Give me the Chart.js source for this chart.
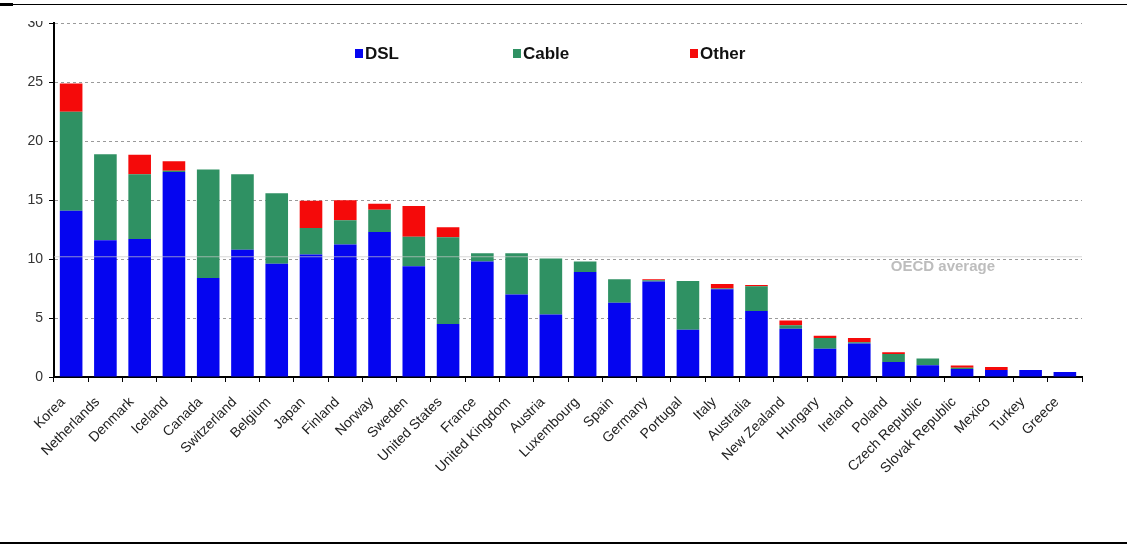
<!DOCTYPE html>
<html>
<head>
<meta charset="utf-8">
<script src="https://cdn.jsdelivr.net/npm/chart.js@4/dist/chart.umd.min.js"></script>
<style>
  html, body { margin: 0; padding: 0; background: #fff; }
  body { width: 1127px; height: 546px; position: relative; overflow: hidden; }
  #topRule { position: absolute; left: 0; top: 4px; width: 1127px; height: 1px; background: #000; }
  #topMark { position: absolute; left: 0; top: 3px; width: 13px; height: 3px; background: #000; }
  #bottomRule { position: absolute; left: 0; top: 542px; width: 1127px; height: 2px; background: #000; }
  #clip { position: absolute; left: 0; top: 21px; width: 1127px; height: 500px; overflow: hidden; }
  #wrap { position: absolute; left: 0; top: -12px; width: 1127px; height: 500px; }
</style>
</head>
<body>
<div id="topRule"></div>
<div id="topMark"></div>
<div id="bottomRule"></div>
<div id="clip"><div id="wrap"><canvas id="broadband"></canvas></div></div>
<script>
// broadband subscribers per 100 inhabitants, by technology
const countries = ['Korea', 'Netherlands', 'Denmark', 'Iceland', 'Canada', 'Switzerland', 'Belgium',
  'Japan', 'Finland', 'Norway', 'Sweden', 'United States', 'France', 'United Kingdom', 'Austria',
  'Luxembourg', 'Spain', 'Germany', 'Portugal', 'Italy', 'Australia', 'New Zealand', 'Hungary',
  'Ireland', 'Poland', 'Czech Republic', 'Slovak Republic', 'Mexico', 'Turkey', 'Greece'];
const dsl = [14.1, 11.6, 11.7, 17.4, 8.4, 10.8, 9.6, 10.4, 11.25, 12.3, 9.4, 4.5, 9.8, 7.0, 5.3,
  8.9, 6.3, 8.1, 4.0, 7.45, 5.6, 4.1, 2.4, 2.85, 1.27, 0.99, 0.68, 0.59, 0.59, 0.42];
const cable = [8.4, 7.3, 5.5, 0.1, 9.2, 6.4, 6.0, 2.25, 2.05, 1.9, 2.5, 7.35, 0.7, 3.5, 4.75,
  0.9, 2.0, 0.1, 4.15, 0.05, 2.1, 0.3, 0.9, 0.1, 0.68, 0.59, 0.1, 0, 0, 0];
const other = [2.4, 0, 1.65, 0.8, 0, 0, 0, 2.3, 1.7, 0.5, 2.6, 0.85, 0, 0, 0,
  0, 0, 0.1, 0, 0.4, 0.1, 0.4, 0.2, 0.35, 0.15, 0, 0.2, 0.26, 0, 0];
const oecdAverage = 10.2;
const yTicks = [0, 5, 10, 15, 20, 25, 30];

const insideLegend = {
  id: 'insideLegend',
  afterDraw(chart) {
    const ctx = chart.ctx;
    const xs = [355, 513, 690];
    const y = 44;
    ctx.save();
    ctx.font = 'bold 17px "Liberation Sans", Arial, sans-serif';
    ctx.textBaseline = 'middle';
    chart.data.datasets.forEach((ds, i) => {
      ctx.fillStyle = ds.backgroundColor;
      ctx.fillRect(xs[i], y - 4, 8, 9);
      ctx.fillStyle = '#111';
      ctx.fillText(ds.label, xs[i] + 10, y + 1);
    });
    ctx.restore();
  }
};

const oecdLine = {
  id: 'oecdLine',
  afterDatasetsDraw(chart) {
    const ctx = chart.ctx;
    const area = chart.chartArea;
    const xs = chart.scales.x;
    const ys = chart.scales.y;
    const yy = ys.getPixelForValue(oecdAverage);
    ctx.save();
    ctx.strokeStyle = 'rgba(200,200,200,0.7)';
    ctx.lineWidth = 1;
    ctx.beginPath();
    ctx.moveTo(area.left, yy);
    ctx.lineTo(area.right, yy);
    ctx.stroke();
    const cx = (xs.getPixelForValue(25) + xs.getPixelForValue(26)) / 2 - 2;
    ctx.font = 'bold 15px "Liberation Sans", Arial, sans-serif';
    ctx.fillStyle = '#bdbdbd';
    ctx.textAlign = 'center';
    ctx.textBaseline = 'middle';
    ctx.fillText('OECD average', cx, ys.getPixelForValue(10) + 8);
    ctx.restore();
  }
};

new Chart(document.getElementById('broadband'), {
  type: 'bar',
  data: {
    labels: countries,
    datasets: [
      {label: 'DSL', data: dsl, backgroundColor: '#0505f0'},
      {label: 'Cable', data: cable, backgroundColor: '#2f9163'},
      {label: 'Other', data: other, backgroundColor: '#f50a0a'}
    ]
  },
  options: {
    responsive: true,
    maintainAspectRatio: false,
    animation: false,
    layout: {padding: {top: 0, right: 45, left: 0, bottom: 0}},
    datasets: {bar: {categoryPercentage: 1, barPercentage: 0.66}},
    plugins: {legend: {display: false}, tooltip: {enabled: false}},
    scales: {
      x: {
        stacked: true,
        afterFit: s => { s.height = 132; },
        grid: {offset: true, drawOnChartArea: false, drawTicks: true, tickLength: 5, color: '#000'},
        border: {color: '#000', width: 2},
        ticks: {
          minRotation: 45, maxRotation: 45, autoSkip: false, color: '#222', padding: 12,
          labelOffset: -8,
          font: {family: '"Liberation Sans", Arial, sans-serif', size: 14}
        }
      },
      y: {
        stacked: true,
        min: 0, max: 30,
        afterFit: s => { s.width = 54; },
        afterBuildTicks: s => { s.ticks = yTicks.map(v => ({value: v})); },
        grid: {color: '#9a9a9a', tickColor: '#000', tickLength: 5},
        border: {color: '#000', width: 2, dash: [3, 3]},
        ticks: {
          color: '#333', padding: 6,
          font: {family: '"Liberation Sans", Arial, sans-serif', size: 14}
        }
      }
    }
  },
  plugins: [oecdLine, insideLegend]
});
</script>
</body>
</html>
